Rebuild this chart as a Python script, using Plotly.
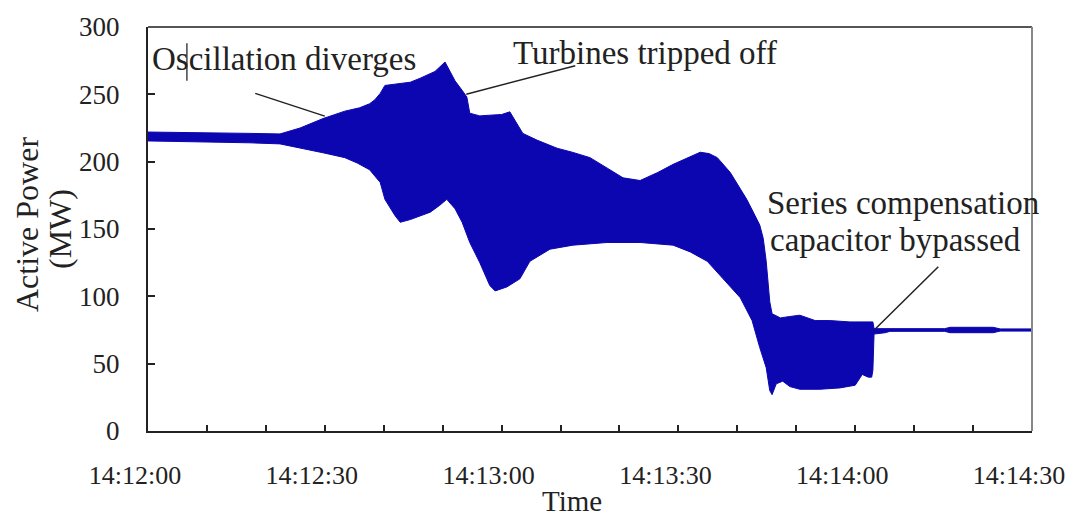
import plotly.graph_objects as go

# Time axis in seconds after 14:12:00
tick_vals = [0, 30, 60, 90, 120, 150]
tick_text = ["14:12:00", "14:12:30", "14:13:00", "14:13:30", "14:14:00", "14:14:30"]
y_ticks = [0, 50, 100, 150, 200, 250, 300]

# Upper envelope of the oscillating active power (MW)
upper_t = [0, 8.8, 17.3, 22.4, 25.8, 29.7, 33.4, 35.9, 37.6, 38.5, 39.4, 40.2, 42.8, 44.5, 46.2, 48.7,
           50.4, 52.1, 53.3, 54.1, 54.6, 56.3, 58.0, 60.0, 61.4, 62.5, 63.6, 66.0, 69.4, 72.0, 75.0, 78.0,
           80.6, 83.5, 86.5, 89.1, 91.5, 93.7, 95.2, 96.6, 98.8, 100.2, 101.6, 103.0, 103.8, 104.4,
           104.9, 105.5, 105.9, 106.4, 107.3, 108.9, 110.6, 113.2, 115.7, 119.1, 122.5, 123.0, 123.2,
           125.1, 135.2, 136.1, 143.4, 144.6, 150]
upper_v = [222, 221.7, 221, 220.6, 225, 232, 237.5, 240, 243, 246, 250.7, 256.6, 258, 259, 262, 267,
           274, 260, 253, 248, 236, 234, 234.5, 235, 237, 229, 221, 216, 210, 207, 203, 195,
           188, 186, 192, 198, 203, 207, 206, 203, 192, 182, 172, 160, 153, 143,
           126, 96, 87, 86, 84, 85, 86, 82, 82, 81, 81, 81, 76,
           76, 76, 77, 77, 75.8, 75.8]

# Lower envelope of the oscillating active power (MW)
lower_t = [0, 8.8, 17.3, 22.4, 26.0, 29.7, 33.4, 35.5, 37.6, 39.4, 40.2, 41.9, 42.8, 44.5, 47.9, 49.5,
           50.7, 52.1, 53.3, 54.6, 56.3, 58.0, 58.9, 60.9, 63.1, 64.8, 68.2, 72.1, 77.9, 83.5,
           89.1, 92.0, 94.9, 97.6, 100.5, 102.5, 103.8, 104.9, 105.5, 105.9, 106.6, 107.7,
           108.9, 110.6, 114.0, 117.4, 120.0, 121.2, 122.2, 122.8, 123.0, 123.2, 125.1, 125.9,
           135.2, 136.1, 143.4, 144.6, 150]
lower_v = [215.4, 214.7, 214, 213.2, 210, 206.6, 203, 199, 194, 184.6, 172, 160, 155, 157, 162.5, 167.6,
           172, 165, 155, 140, 125, 108, 104, 107, 113, 126, 135, 138, 140, 140,
           138, 133, 126, 113, 99, 82, 62, 47, 30, 27, 35, 37,
           33, 31, 31, 32, 34, 42, 40, 40, 45, 72, 73, 74,
           74, 73, 73, 74.2, 74.2]

FONT = "Liberation Serif"
BLUE = "rgb(12,6,176)"

fig = go.Figure()
fig.add_trace(go.Scatter(
    x=upper_t + lower_t[::-1],
    y=upper_v + lower_v[::-1],
    mode="lines",
    fill="toself",
    fillcolor=BLUE,
    line=dict(color=BLUE, width=1),
    hoverinfo="skip",
    showlegend=False,
))

annos = [
    dict(text="Oscillation diverges", x=0.35, y=276.5, xanchor="left", yanchor="middle"),
    dict(text="Turbines tripped off", x=61.6, y=281, xanchor="left", yanchor="middle"),
    dict(text="Series compensation", x=104.7, y=169, xanchor="left", yanchor="middle"),
    dict(text="capacitor bypassed", x=105.2, y=142, xanchor="left", yanchor="middle"),
]
annotations = []
for a in annos:
    annotations.append(dict(
        xref="x", yref="y", showarrow=False,
        font=dict(family=FONT, size=33, color="#222"), **a))

annotations.append(dict(
    text="Active Power", xref="paper", yref="paper", x=0, y=0.5,
    xanchor="center", yanchor="middle", xshift=-121, yshift=4, textangle=-90,
    showarrow=False, font=dict(family=FONT, size=32, color="#222")))
annotations.append(dict(
    text="(MW)", xref="paper", yref="paper", x=0, y=0.5,
    xanchor="center", yanchor="middle", xshift=-88, yshift=0, textangle=-90,
    showarrow=False, font=dict(family=FONT, size=32, color="#222")))
annotations.append(dict(
    text="Time", xref="paper", yref="paper", x=0.5, y=0,
    xanchor="center", yanchor="middle", xshift=-18, yshift=-70,
    showarrow=False, font=dict(family=FONT, size=29, color="#222")))

shapes = [
    # callout lines
    dict(type="line", xref="x", yref="y", x0=18.2, y0=250.7, x1=30.0, y1=233.8,
         line=dict(color="#222", width=1.5)),
    dict(type="line", xref="x", yref="y", x0=54.0, y0=250, x1=72.5, y1=271.3,
         line=dict(color="#222", width=1.5)),
    dict(type="line", xref="x", yref="y", x0=123.4, y0=75.7, x1=134.1, y1=122,
         line=dict(color="#222", width=1.5)),
    # cursor artefact
    dict(type="line", xref="x", yref="y", x0=6.6, y0=288, x1=6.6, y1=260,
         line=dict(color="#444", width=1.5)),
    # frame top & right
    dict(type="line", xref="paper", yref="paper", x0=0, y0=1, x1=1, y1=1,
         line=dict(color="#555", width=2)),
    dict(type="line", xref="paper", yref="paper", x0=1, y0=0, x1=1, y1=1,
         line=dict(color="#888", width=2)),
]

fig.update_layout(
    width=1078, height=519, autosize=False,
    margin=dict(l=148, r=46, t=23, b=88),
    paper_bgcolor="white", plot_bgcolor="white",
    font=dict(family=FONT, color="#222"),
    annotations=annotations,
    shapes=shapes,
    showlegend=False,
)
fig.update_xaxes(
    range=[0, 150], tickvals=tick_vals, ticktext=tick_text,
    ticks="inside", ticklen=6, tickwidth=1.5, tickcolor="#222",
    minor=dict(dtick=10, tick0=0, ticks="inside", ticklen=6, tickwidth=1.5, tickcolor="#222"),
    showline=True, linecolor="#222", linewidth=2, showgrid=False, zeroline=False,
    tickfont=dict(family=FONT, size=26, color="#222"),
    ticklabelstandoff=20, ticklabelshift=-13,
)
fig.update_yaxes(
    range=[0, 300], tickvals=y_ticks,
    ticks="inside", ticklen=7, tickwidth=1.5, tickcolor="#222",
    showline=True, linecolor="#222", linewidth=2, showgrid=False, zeroline=False,
    tickfont=dict(family=FONT, size=27, color="#222"),
    ticklabelstandoff=21,
)

fig.write_html("out.html")
